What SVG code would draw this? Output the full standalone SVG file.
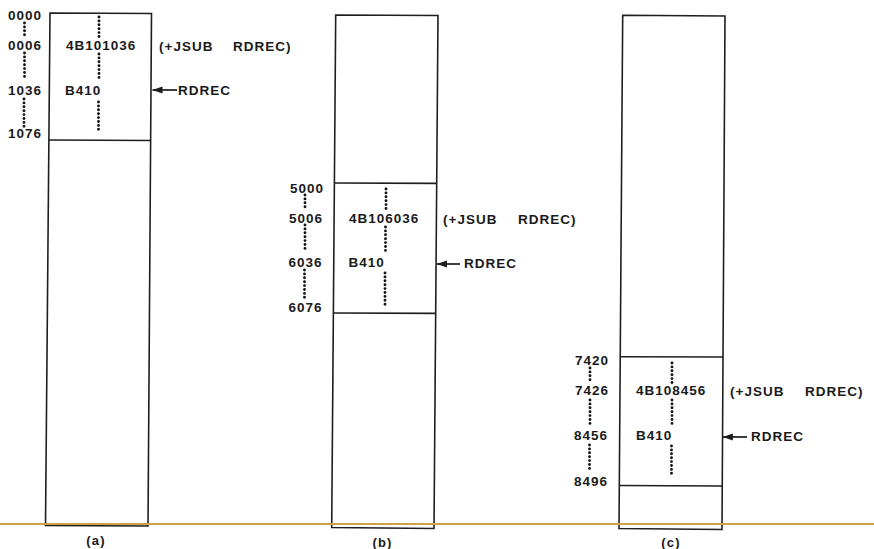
<svg xmlns="http://www.w3.org/2000/svg" width="874" height="549" viewBox="0 0 874 549">
<defs>
<style>
.t{font-family:"Liberation Sans",Arial,sans-serif;font-weight:bold;font-size:13.5px;letter-spacing:1px;fill:#1a1a1a}
.lbl{font-family:"Liberation Sans",Arial,sans-serif;font-weight:bold;font-size:13px;letter-spacing:1.2px;fill:#1a1a1a;text-anchor:middle}
.box{fill:none;stroke:#1e1e1e;stroke-width:1.6;stroke-linejoin:miter}
.div{stroke:#1e1e1e;stroke-width:1.6}
.dots{stroke:#141414;stroke-width:2.9;stroke-linecap:round;stroke-dasharray:0 3.9;fill:none}
.arr{stroke:#1a1a1a;stroke-width:1.7;fill:none}
</style>
<marker id="ah" markerWidth="11" markerHeight="9" refX="10" refY="4.5" orient="auto" markerUnits="userSpaceOnUse">
<path d="M0,1 L10,4.5 L0,8 Z" fill="#1a1a1a"/>
</marker>
</defs>
<rect width="874" height="549" fill="#ffffff"/>

<g id="panel-a">
<path class="box" d="M50,13 L151.5,13.5 L148,526 L45.5,525.5 Z"/>
<line class="div" x1="48.9" y1="140" x2="150.6" y2="140.5"/>
<line class="dots" x1="24.5" y1="23" x2="24.5" y2="36"/>
<line class="dots" x1="24.5" y1="53" x2="24.5" y2="80"/>
<line class="dots" x1="24" y1="99" x2="24" y2="127"/>
<line class="dots" x1="99" y1="17" x2="99" y2="37"/>
<line class="dots" x1="99" y1="54" x2="99" y2="80"/>
<line class="dots" x1="98.5" y1="102" x2="98.5" y2="132"/>
<text class="t" x="8" y="20">0000</text>
<text class="t" x="8" y="49.5">0006</text>
<text class="t" x="8" y="95">1036</text>
<text class="t" x="8" y="138">1076</text>
<text class="t" x="66" y="49.5">4B101036</text>
<text class="t" x="65" y="95">B410</text>
<text class="t" x="159" y="50.5">(+JSUB</text>
<text class="t" x="233" y="50.5">RDREC)</text>
<text class="t" x="178" y="95">RDREC</text>
<text class="lbl" x="96" y="545">(a)</text>
</g>

<g id="panel-b">
<path class="box" d="M335.7,15 L438,15.5 L434,528.5 L331.7,527.5 Z"/>
<line class="div" x1="334.4" y1="183" x2="436.7" y2="183.4"/>
<line class="div" x1="333.4" y1="313" x2="435.7" y2="313.4"/>
<line class="dots" x1="305" y1="195" x2="305" y2="209"/>
<line class="dots" x1="305" y1="225" x2="305" y2="252"/>
<line class="dots" x1="304.5" y1="270" x2="304.5" y2="298"/>
<line class="dots" x1="386" y1="189" x2="386" y2="209"/>
<line class="dots" x1="385.5" y1="227" x2="385.5" y2="252"/>
<line class="dots" x1="385" y1="273" x2="385" y2="305"/>
<text class="t" x="290" y="192.5">5000</text>
<text class="t" x="289" y="223">5006</text>
<text class="t" x="288.5" y="267">6036</text>
<text class="t" x="288.5" y="311.5">6076</text>
<text class="t" x="349" y="223">4B106036</text>
<text class="t" x="348.5" y="267">B410</text>
<text class="t" x="443" y="224">(+JSUB</text>
<text class="t" x="518" y="224">RDREC)</text>
<text class="t" x="464" y="268">RDREC</text>
<text class="lbl" x="382.5" y="546.5">(b)</text>
</g>

<g id="panel-c">
<path class="box" d="M622.7,15.3 L725,16 L722,529.5 L619,528.5 Z"/>
<line class="div" x1="620" y1="356.7" x2="723" y2="357"/>
<line class="div" x1="619.3" y1="485.5" x2="722.3" y2="486"/>
<line class="dots" x1="590" y1="368" x2="590" y2="382"/>
<line class="dots" x1="590" y1="400" x2="590" y2="425"/>
<line class="dots" x1="589.5" y1="445" x2="589.5" y2="470"/>
<line class="dots" x1="672" y1="363" x2="672" y2="383"/>
<line class="dots" x1="672" y1="400" x2="672" y2="427"/>
<line class="dots" x1="671.5" y1="446" x2="671.5" y2="477"/>
<text class="t" x="575" y="364.5">7420</text>
<text class="t" x="575" y="395">7426</text>
<text class="t" x="574" y="440">8456</text>
<text class="t" x="574" y="485.5">8496</text>
<text class="t" x="636" y="395">4B108456</text>
<text class="t" x="636" y="440">B410</text>
<text class="t" x="730" y="396">(+JSUB</text>
<text class="t" x="805" y="396">RDREC)</text>
<text class="t" x="751" y="441">RDREC</text>
<text class="lbl" x="671" y="547">(c)</text>
</g>

<g id="connectors">
<path class="arr" d="M177,90 L152.5,90" marker-end="url(#ah)"/>
<path class="arr" d="M460,264 L437,264" marker-end="url(#ah)"/>
<path class="arr" d="M747,437 L722.8,437" marker-end="url(#ah)"/>
</g>

<line x1="0" y1="524" x2="874" y2="524" stroke="#c9a444" stroke-width="2"/>
</svg>
